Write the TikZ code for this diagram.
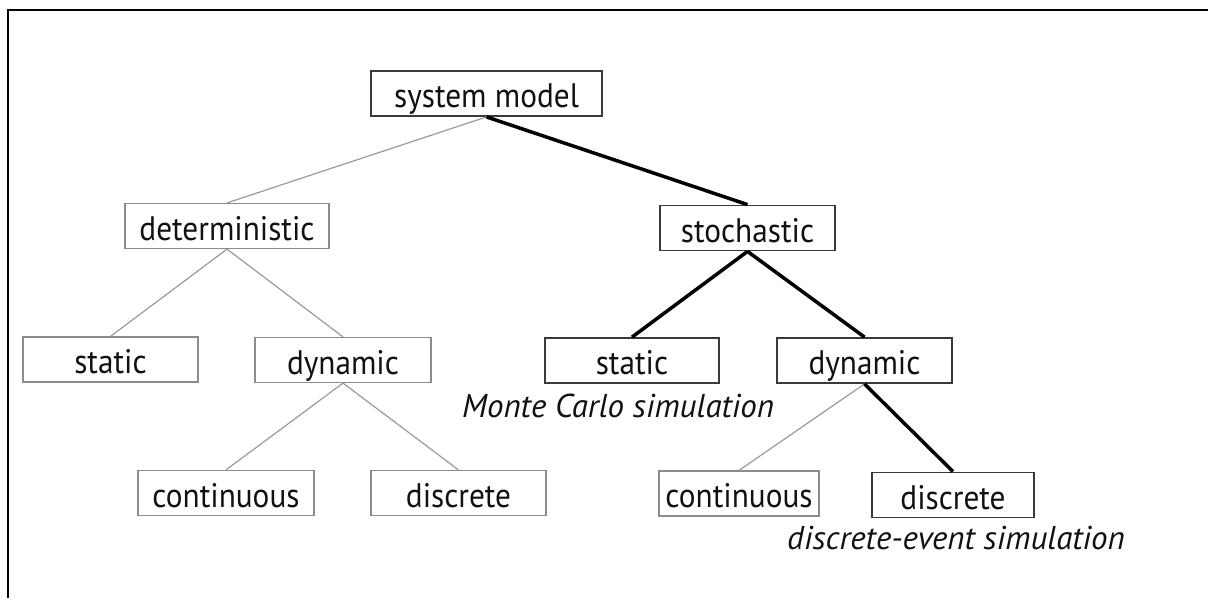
\documentclass[tikz,border=0pt]{standalone}
\usepackage{fontspec}
\setmainfont{PT Sans}
\newfontfamily\boxfont[FakeStretch=0.92]{PT Sans}
\begin{document}
\begin{tikzpicture}[x=1pt,y=-1pt,
  box/.style={draw, inner sep=0pt, minimum height=45pt, text height=28pt, text depth=0pt,
    font=\boxfont\fontsize{34}{40}\selectfont, text=txt},
  lite/.style={box, draw=boxgray, line width=1.2pt},
  dark/.style={box, draw=boxdark, line width=1.8pt},
  thin/.style={draw=linegray, line width=1.2pt},
  thick/.style={draw=black, line width=3.5pt},
  note/.style={font=\fontsize{33}{38}\selectfont\itshape, text=txt, inner sep=0pt, anchor=west}
]
\definecolor{boxgray}{HTML}{8C8C8C}
\definecolor{boxdark}{HTML}{3A3A3A}
\definecolor{linegray}{HTML}{9A9A9A}
\definecolor{txt}{HTML}{111111}
\useasboundingbox (0,0) rectangle (1208,598);
\coordinate (fbl) at (8,598);
\coordinate (ftl) at (8,10);
\coordinate (ftr) at (1208,10);
\draw[line width=2.5pt] (fbl) -- (ftl) -- (ftr);

\node[dark, minimum width=231pt] (sm) at (486.5,93.5) {system model};
\node[lite, minimum width=204pt] (det) at (227,226) {deterministic};
\node[dark, minimum width=175pt] (sto) at (747.5,228) {stochastic};
\node[lite, minimum width=175pt] (ds) at (110.5,359.5) {static};
\node[lite, minimum width=176pt] (dd) at (343,360) {dynamic};
\node[dark, minimum width=174pt] (ss) at (632,360.5) {static};
\node[dark, minimum width=175pt] (sd) at (864.5,360.5) {dynamic};
\node[lite, minimum width=176pt] (dc) at (226,493) {continuous};
\node[lite, minimum width=175pt] (ddi) at (458.5,493) {discrete};
\node[lite, minimum width=160pt] (sc) at (739,493.5) {continuous};
\node[dark, minimum width=162pt] (sdi) at (953,495) {discrete};

\node[note] (mc) at (462,406) {Monte Carlo simulation};
\node[note] (des) at (787,538) {discrete-event simulation};

\draw[thin] (sm.south) -- (det.north);
\draw[thick] (sm.south) -- (sto.north);
\draw[thin] (det.south) -- (ds.north);
\draw[thin] (det.south) -- (dd.north);
\draw[thin] (dd.south) -- (dc.north);
\draw[thin] (dd.south) -- (ddi.north);
\draw[thick] (sto.south) -- (ss.north);
\draw[thick] (sto.south) -- (sd.north);
\draw[thin] (sd.south) -- (sc.north);
\draw[thick] (sd.south) -- (sdi.north);
\end{tikzpicture}
\end{document}
